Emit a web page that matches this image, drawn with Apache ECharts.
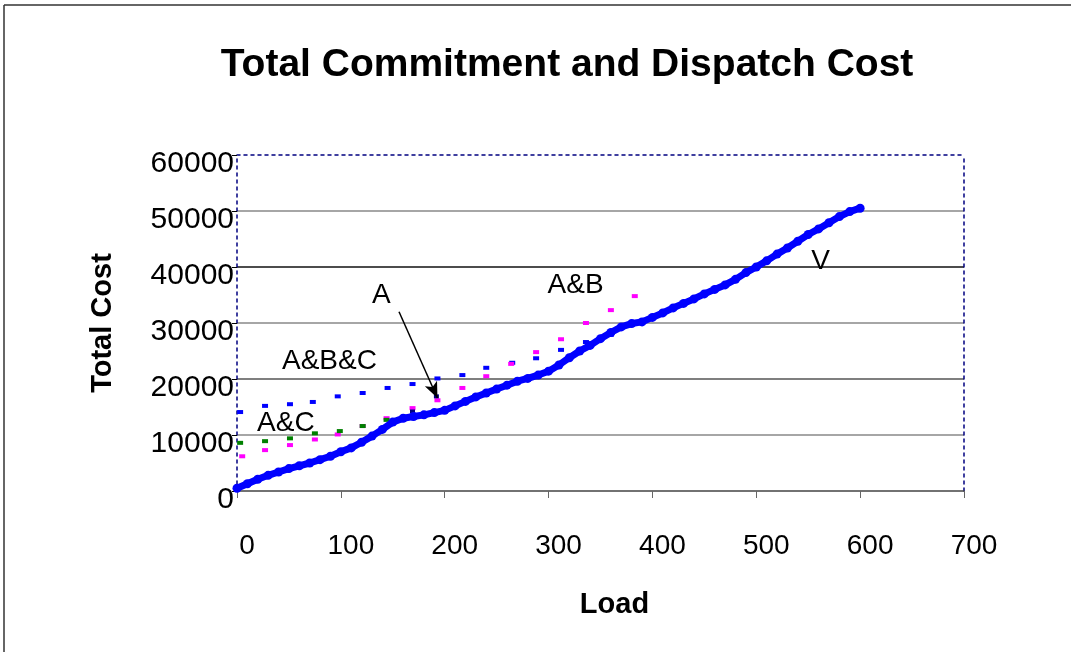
<!DOCTYPE html>
<html>
<head>
<meta charset="utf-8">
<script src="https://cdn.jsdelivr.net/npm/echarts@6/dist/echarts.min.js"></script>
<style>
html,body{margin:0;padding:0;background:#fff;}
#chart{width:1071px;height:652px;}
</style>
</head>
<body>
<div id="chart"></div>
<script>
// ---- data ----
const titleText = 'Total Commitment and Dispatch Cost';
const xName = 'Load';
const yName = 'Total Cost';

// V : optimal commitment curve
const vLoad = [0,10,20,30,40,50,60,70,80,90,100,110,120,130,140,150,160,170,180,190,200,210,220,230,240,250,260,270,280,290,300,310,320,330,340,350,360,370,380,390,400,410,420,430,440,450,460,470,480,490,500,510,520,530,540,550,560,570,580,590,600];
const vCost = [500,1300,2100,2800,3400,4000,4500,5000,5600,6200,7000,7700,8700,9800,11000,12300,13000,13300,13600,14000,14400,15200,16000,16800,17500,18200,18900,19600,20100,20700,21400,22500,23800,25000,26000,27200,28300,29300,29900,30200,31000,31800,32700,33500,34300,35200,36000,36800,37800,39000,40000,41100,42300,43400,44600,45800,46800,47900,49000,49900,50500];

// A&B&C (blue)
const abcLoad = [3,27,51,73,97,121,145,169,193,217,240,265,288,312,336,360];
const abcCost = [14100,15200,15500,15900,16900,17500,18400,19100,20100,20700,22000,22900,23700,25200,26600,27900];

// A&B (magenta)
const abLoad = [5,27,51,75,97,121,144,169,193,217,240,264,288,312,336,360,383];
const abCost = [6200,7300,8200,9200,10100,11600,13000,14800,16200,18400,20500,22700,24800,27100,30000,32300,34800];

// A&C (green)
const acLoad = [3,27,51,75,99,121,144];
const acCost = [8600,8900,9400,10300,10700,11600,12700];

// A (navy)
const aLoad = [169,192];
const aCost = [14200,16900];

// annotation labels [text, load, cost]
const noteText = ['V','A&B','A','A&B&C','A&C'];
const noteLoad = [562,326,139,89,47];
const noteCost = [41100,36800,35000,23200,12100];
// arrow from label A to its point
const arrowFrom = [156,32000];
const arrowTo = [193,16600];

const xTicks = {min:0,max:700,interval:100};
const yTicks = {min:0,max:60000,interval:10000};

const zip = (a,b)=>a.map((v,i)=>[v,b[i]]);
const FONT = '"Liberation Sans", Arial, sans-serif';

const chart = echarts.init(document.getElementById('chart'), null, {renderer:'canvas'});
const dotted = {color:'#000080', width:1.5, type:[3,4]};

chart.setOption({
  animation:false,
  backgroundColor:'#fff',
  title:{
    text:titleText, left:562, top:41, textAlign:'center',
    textStyle:{fontFamily:FONT, fontSize:39, fontWeight:'bold', color:'#000'}
  },
  graphic:[
    {type:'line', shape:{x1:4,y1:5,x2:1071,y2:5}, style:{stroke:'#333',lineWidth:1.5}, silent:true},
    {type:'line', shape:{x1:4,y1:5,x2:4,y2:652}, style:{stroke:'#333',lineWidth:1.5}, silent:true}
  ],
  grid:{left:237, right:107, top:155, bottom:161, containLabel:false},
  xAxis:[{
    type:'value', min:xTicks.min, max:xTicks.max, interval:xTicks.interval,
    name:xName, nameLocation:'middle', nameGap:99,
    nameTextStyle:{fontFamily:FONT, fontSize:29, fontWeight:'bold', color:'#000', padding:[0,0,0,28]},
    axisLine:{show:true, onZero:false, lineStyle:{color:'#444', width:1.5}},
    axisTick:{show:true, inside:false, length:7, lineStyle:{color:'#666'}},
    axisLabel:{fontFamily:FONT, fontSize:28, color:'#000', margin:41, padding:[0,0,0,20]},
    splitLine:{show:false}
  },{
    type:'value', position:'top', min:xTicks.min, max:xTicks.max,
    axisLine:{show:true, onZero:false, lineStyle:dotted}, axisTick:{show:false}, axisLabel:{show:false}, splitLine:{show:false}
  }],
  yAxis:[{
    type:'value', min:yTicks.min, max:yTicks.max, interval:yTicks.interval,
    name:yName, nameLocation:'middle', nameGap:120,
    nameTextStyle:{fontFamily:FONT, fontSize:29, fontWeight:'bold', color:'#000'},
    axisLine:{show:true, onZero:false, lineStyle:dotted},
    axisTick:{show:true, inside:false, length:5, lineStyle:{color:'#000'}},
    axisLabel:{fontFamily:FONT, fontSize:30, color:'#000', margin:3, verticalAlign:'top', lineHeight:18,
      formatter:v=>String(v)},
    splitLine:{show:true, lineStyle:{color:['rgba(0,0,0,0)','#888','#555','#888','#111','#888','rgba(0,0,0,0)'], width:1.5}}
  },{
    type:'value', position:'right', min:yTicks.min, max:yTicks.max,
    axisLine:{show:true, onZero:false, lineStyle:dotted}, axisTick:{show:false}, axisLabel:{show:false}, splitLine:{show:false}
  }],
  series:[
    {name:'A&B&C', type:'scatter', symbol:'rect', symbolSize:[6,4], itemStyle:{color:'#0000ff', opacity:1}, data:zip(abcLoad,abcCost), z:3},
    {name:'A&B', type:'scatter', symbol:'rect', symbolSize:[6,4], itemStyle:{color:'#ff00ff', opacity:1}, data:zip(abLoad,abCost), z:3},
    {name:'A&C', type:'scatter', symbol:'rect', symbolSize:[6,4], itemStyle:{color:'#008000', opacity:1}, data:zip(acLoad,acCost), z:3},
    {name:'A', type:'scatter', symbol:'rect', symbolSize:[5,4], itemStyle:{color:'#000080', opacity:1}, data:zip(aLoad,aCost), z:3},
    {name:'V', type:'line', symbol:'circle', symbolSize:9, showAllSymbol:true,
     lineStyle:{color:'#0000ff', width:7}, itemStyle:{color:'#0000ff'},
     data:zip(vLoad,vCost), z:4},
    {name:'notes', type:'scatter', symbolSize:0, silent:true, z:5, itemStyle:{opacity:1},
     label:{show:true, position:'inside', formatter:p=>p.name, fontFamily:FONT, fontSize:28, color:'#000', textBorderWidth:0},
     data:noteText.map((t,i)=>({name:t, value:[noteLoad[i], noteCost[i]]})),
     markLine:{silent:true, symbol:['none','arrow'], symbolSize:[10,16],
       lineStyle:{color:'#000', width:1.5, type:'solid'}, label:{show:false},
       data:[[{coord:arrowFrom},{coord:arrowTo}]]}
    }
  ]
});
</script>
</body>
</html>
